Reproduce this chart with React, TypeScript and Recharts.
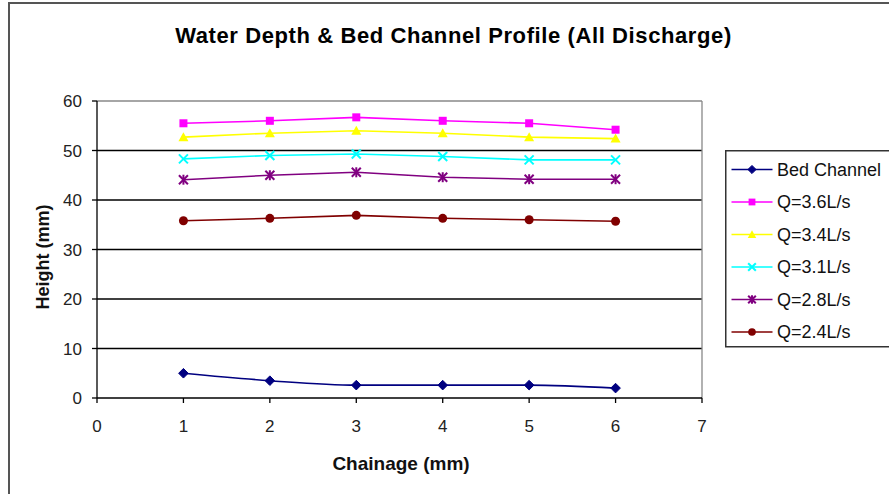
import React from "react";
import { LineChart, Line, XAxis, YAxis, ReferenceLine, Label } from "recharts";

const chainage = [1, 2, 3, 4, 5, 6];
const bedChannel = [5, 3.5, 2.6, 2.6, 2.6, 2];
const q36 = [55.5, 56, 56.7, 56, 55.5, 54.2];
const q34 = [52.7, 53.5, 54, 53.5, 52.7, 52.4];
const q31 = [48.3, 49, 49.3, 48.8, 48.1, 48.1];
const q28 = [44.1, 45, 45.6, 44.6, 44.2, 44.2];
const q24 = [35.8, 36.3, 36.9, 36.3, 36, 35.7];

const xTicks = [0, 1, 2, 3, 4, 5, 6, 7];
const yTicks = [0, 10, 20, 30, 40, 50, 60];
const gridValues = [10, 20, 30, 40, 50];

const series = [
  { key: "bed", name: "Bed Channel", values: bedChannel, color: "#000080", shape: "diamond", curve: "monotone" },
  { key: "q36", name: "Q=3.6L/s", values: q36, color: "#FF00FF", shape: "square", curve: "linear" },
  { key: "q34", name: "Q=3.4L/s", values: q34, color: "#FFFF00", shape: "triangle", curve: "linear" },
  { key: "q31", name: "Q=3.1L/s", values: q31, color: "#00FFFF", shape: "x", curve: "linear" },
  { key: "q28", name: "Q=2.8L/s", values: q28, color: "#800080", shape: "star", curve: "linear" },
  { key: "q24", name: "Q=2.4L/s", values: q24, color: "#800000", shape: "circle", curve: "linear" },
];

const data = chainage.map((c, i) => {
  const row: Record<string, number> = { chainage: c };
  series.forEach((s) => {
    row[s.key] = s.values[i];
  });
  return row;
});

const FONT = '"Liberation Sans", Arial, sans-serif';

function Marker({ shape, cx, cy, color, s = 1 }: { shape: string; cx: number; cy: number; color: string; s?: number }) {
  if (cx == null || cy == null || isNaN(cx) || isNaN(cy)) return <g />;
  switch (shape) {
    case "diamond": {
      const r = 4.8 * s;
      return <polygon points={`${cx},${cy - r} ${cx + r},${cy} ${cx},${cy + r} ${cx - r},${cy}`} fill={color} stroke={color} />;
    }
    case "square": {
      const r = 4 * s;
      return <rect x={cx - r} y={cy - r} width={2 * r} height={2 * r} fill={color} />;
    }
    case "triangle": {
      const r = 5 * s;
      return <polygon points={`${cx},${cy - r} ${cx + r},${cy + r * 0.8} ${cx - r},${cy + r * 0.8}`} fill={color} />;
    }
    case "x": {
      const r = 4.5 * s;
      return (
        <g stroke={color} strokeWidth={2}>
          <line x1={cx - r} y1={cy - r} x2={cx + r} y2={cy + r} />
          <line x1={cx - r} y1={cy + r} x2={cx + r} y2={cy - r} />
        </g>
      );
    }
    case "star": {
      const r = 4.5 * s;
      return (
        <g stroke={color} strokeWidth={2}>
          <line x1={cx - r} y1={cy - r} x2={cx + r} y2={cy + r} />
          <line x1={cx - r} y1={cy + r} x2={cx + r} y2={cy - r} />
          <line x1={cx} y1={cy - r - 0.5} x2={cx} y2={cy + r + 0.5} />
        </g>
      );
    }
    default:
      return <circle cx={cx} cy={cy} r={4.5 * s} fill={color} />;
  }
}

export default function App() {
  return (
    <div style={{ position: "absolute", left: 0, top: 0, width: 889, height: 494, overflow: "hidden", background: "#fff", fontFamily: FONT }}>
      <div
        style={{
          position: "absolute",
          left: 8,
          top: 2,
          width: 1000,
          height: 700,
          border: "2px solid #555",
          boxSizing: "border-box",
        }}
      />
      <div
        style={{
          position: "absolute",
          left: 0,
          top: 25,
          width: 907,
          textAlign: "center",
          fontSize: 22,
          lineHeight: "22px",
          fontWeight: "bold",
          letterSpacing: 0.6,
          color: "#000",
          whiteSpace: "nowrap",
        }}
      >
        Water Depth &amp; Bed Channel Profile (All Discharge)
      </div>
      <div style={{ position: "absolute", left: 0, top: 0 }}>
        <LineChart width={889} height={494} data={data} margin={{ top: 101, right: 187, left: 37, bottom: 36 }}>
          {gridValues.map((v) => (
            <ReferenceLine key={v} y={v} stroke="#000" strokeWidth={1.3} />
          ))}
          <ReferenceLine y={60} stroke="#888" strokeWidth={1.3} />
          <ReferenceLine x={7} stroke="#888" strokeWidth={1.3} />
          <XAxis
            dataKey="chainage"
            type="number"
            domain={[0, 7]}
            ticks={xTicks}
            interval={0}
            height={60}
            tickSize={5}
            tickMargin={17}
            axisLine={{ stroke: "#000", strokeWidth: 1.3 }}
            tickLine={{ stroke: "#000", strokeWidth: 1.3 }}
            tick={{ fill: "#222", fontSize: 17, fontFamily: FONT }}
          >
            <Label
              content={() => (
                <text x={401} y={470} textAnchor="middle" fontSize={19} fontWeight="bold" fontFamily={FONT} fill="#111">
                  Chainage (mm)
                </text>
              )}
            />
          </XAxis>
          <YAxis
            type="number"
            domain={[0, 60]}
            ticks={yTicks}
            interval={0}
            width={60}
            tickSize={5}
            tickMargin={10}
            axisLine={{ stroke: "#000", strokeWidth: 1.3 }}
            tickLine={{ stroke: "#000", strokeWidth: 1.3 }}
            tick={{ fill: "#222", fontSize: 17, fontFamily: FONT }}
          >
            <Label
              content={() => (
                <text
                  x={49}
                  y={257}
                  transform="rotate(-90 49 257)"
                  textAnchor="middle"
                  fontSize={18}
                  fontWeight="bold"
                  fontFamily={FONT}
                  fill="#111"
                >
                  Height (mm)
                </text>
              )}
            />
          </YAxis>
          {series.map((s) => (
            <Line
              key={s.key}
              dataKey={s.key}
              name={s.name}
              type={s.curve as any}
              stroke={s.color}
              strokeWidth={1.6}
              isAnimationActive={false}
              activeDot={false}
              dot={(p: any) => (
                <Marker key={`${s.key}-${p.index}`} shape={s.shape} cx={p.cx} cy={p.cy} color={s.color} />
              )}
            />
          ))}
        </LineChart>
      </div>
      <svg style={{ position: "absolute", left: 725, top: 150 }} width={164} height={200}>
        <rect x={0.75} y={0.75} width={220} height={196} fill="#fff" stroke="#333" strokeWidth={1.5} />
        {series.map((s, i) => {
          const y = 19.5 + i * 32.5;
          return (
            <g key={s.key}>
              <line x1={6.5} x2={47.5} y1={y} y2={y} stroke={s.color} strokeWidth={1.6} />
              <Marker shape={s.shape} cx={27} cy={y} color={s.color} s={0.85} />
              <text x={52} y={y} dy="0.36em" fontSize={18} fontFamily={FONT} fill="#111">
                {s.name}
              </text>
            </g>
          );
        })}
      </svg>
    </div>
  );
}
